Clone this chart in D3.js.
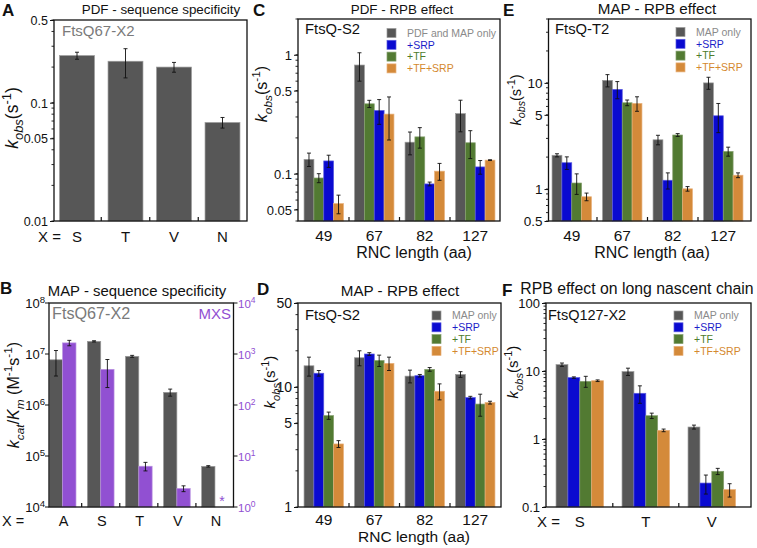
<!DOCTYPE html>
<html><head><meta charset="utf-8">
<script src="https://cdn.jsdelivr.net/npm/d3@7"></script>
<style>body{margin:0;background:#fff} text{font-family:"Liberation Sans",Arial,sans-serif}</style>
</head><body><svg id="c" width="757" height="548"></svg>
<script>
// ---------------- data ----------------
const seqCatsA = ["S","T","V","N"];
const pdfSeqVals = [0.25,0.224,0.2,0.068];
const pdfSeqErr  = [0.017,0.062,0.019,0.007];

const seqCatsB = ["A","S","T","V","N"];
const mapKcatKm    = [7.7e6,1.77e7,9.0e6,1.77e6,6.27e4];
const mapKcatKmErr = [4e6,5e5,4e5,2.8e5,2e3];
const mxsVals = [1650,500,6.3,2.3,null];
const mxsErr  = [200,280,1.2,0.3,null];

const rncLengths = ["49","67","82","127"];
const seqCatsF = ["S","T","V"];
const seriesKeys = ["base","srp","tf","tfsrp"];

// C: PDF - RPB effect (FtsQ-S2)
const pdfBase = [0.132,0.82,0.184,0.32],  pdfBaseErr = [0.017,0.22,0.04,0.095];
const pdfSrp  = [0.128,0.34,0.082,0.114], pdfSrpErr  = [0.015,0.08,0.003,0.015];
const pdfTf   = [0.092,0.387,0.204,0.182],pdfTfErr   = [0.008,0.027,0.04,0.048];
const pdfTfSrp= [0.056,0.317,0.105,0.13], pdfTfSrpErr= [0.01,0.125,0.017,0.001];
// D: MAP - RPB effect (FtsQ-S2)
const mapS2Base = [15.0,17.5,12.3,12.7], mapS2BaseErr = [2.7,2.5,1.5,0.7];
const mapS2Srp  = [13.0,18.8,12.4,8.15], mapS2SrpErr  = [0.7,0.5,0.3,0.2];
const mapS2Tf   = [5.77,16.6,14.0,7.2],  mapS2TfErr   = [0.4,1.8,0.5,1.5];
const mapS2TfSrp= [3.35,15.7,9.2,7.4],   mapS2TfSrpErr= [0.22,2.0,1.4,0.2];
// E: MAP - RPB effect (FtsQ-T2)
const mapT2Base = [2.08,10.57,2.91,10.0], mapT2BaseErr = [0.07,1.4,0.3,1.3];
const mapT2Srp  = [1.77,8.69,1.21,4.9],   mapT2SrpErr  = [0.24,1.6,0.21,1.5];
const mapT2Tf   = [1.14,6.5,3.23,2.26],   mapT2TfErr   = [0.25,0.4,0.1,0.22];
const mapT2TfSrp= [0.846,6.4,1.005,1.35], mapT2TfSrpErr= [0.07,1.0,0.05,0.07];
// F: long nascent chain (FtsQ127-X2)
const longBase = [12.4,9.8,1.5],    longBaseErr = [0.7,1.2,0.1];
const longSrp  = [8.0,4.7,0.225],   longSrpErr  = [0.2,1.35,0.07];
const longTf   = [7.05,2.2,0.335],  longTfErr   = [1.3,0.2,0.035];
const longTfSrp= [7.2,1.34,0.18],   longTfSrpErr= [0.2,0.06,0.04];

const ticksA = [0.01,0.05,0.1,0.5];
const ticksC = [0.05,0.1,0.5,1];
const ticksD = [1,5,10,50];
const ticksE = [0.5,1,5,10];
const ticksF = [0.1,1,10,100];
const ticksBLeft = [4,5,6,7,8];
const ticksBRight = [0,1,2,3,4];

const legendC = ["PDF and MAP only","+SRP","+TF","+TF+SRP"];
const legendMAP = ["MAP only","+SRP","+TF","+TF+SRP"];

// ---------------- styles ----------------
const COL = {base:"#575757", srp:"#0a0ad0", tf:"#527a32", tfsrp:"#d48a3a", mxs:"#9150d2"};
const STROKE = {base:"#9a9a9a", srp:"#5a5ae0", tf:"#86a070", tfsrp:"#e8b07a", mxs:"#b890e0"};
const TXT = {base:"#8a8a8a", srp:"#1c1cc8", tf:"#4e7c2c", tfsrp:"#d4882e"};

const svg = d3.select("#c");

function rich(g, x, y, parts, size) {
  const t = g.append("text").attr("x",x).attr("y",y).attr("font-size",size);
  let shift = 0;
  parts.forEach(p => {
    const s = t.append("tspan").text(p.t);
    const target = p.sub ? size*0.3 : p.sup ? -size*0.42 : 0;
    if (target - shift !== 0) s.attr("dy", target - shift);
    shift = target;
    if (p.sub || p.sup) s.attr("font-size", size*0.74);
    if (p.it) s.attr("font-style","italic");
  });
  return t;
}
const kobs = [{t:"k",it:1},{t:"obs",it:1,sub:1},{t:"(s"},{t:"-1",sup:1},{t:")"}];

function minorTicks(dom) {
  const out = [];
  const lo = Math.floor(Math.log10(dom[0])), hi = Math.ceil(Math.log10(dom[1]));
  for (let e = lo; e <= hi; e++) for (let m = 1; m <= 9; m++) {
    const v = m * Math.pow(10, e);
    if (v >= dom[0]*0.999 && v <= dom[1]*1.001) out.push(v);
  }
  return out;
}

function panel(o) {
  const g = svg.append("g");
  const y = d3.scaleLog().domain(o.yDomain).range([o.y1, o.y0]);
  const x = d3.scaleBand().domain(o.cats).range(o.band).paddingInner(0).paddingOuter(0);
  const inner = d3.scaleBand().domain(d3.range(o.series.length))
      .range([0, x.bandwidth()*o.groupFrac]);
  const off = x.bandwidth()*(1-o.groupFrac)/2;
  o.series.forEach((s, si) => {
    const sy = s.scale || y;
    const lo = sy.domain()[0];
    const data = o.cats.map((c,i) => ({c, v:s.vals[i], e:s.errs[i]})).filter(d => d.v != null);
    g.selectAll(null).data(data).join("rect")
      .attr("x", d => x(d.c) + off + inner(si))
      .attr("width", inner.bandwidth())
      .attr("y", d => sy(d.v))
      .attr("height", d => o.y1 - sy(d.v))
      .attr("fill", s.color).attr("stroke", s.stroke).attr("stroke-width", 0.7);
    const eb = g.selectAll(null).data(data.filter(d => d.e)).join("g")
      .attr("transform", d => `translate(${x(d.c) + off + inner(si) + inner.bandwidth()/2},0)`);
    const top = d => sy(d.v + d.e), bot = d => sy(Math.max(d.v - d.e, lo*1.01));
    eb.append("line").attr("y1", top).attr("y2", bot).attr("stroke","#111").attr("stroke-width",0.9);
    eb.append("line").attr("x1",-2).attr("x2",2).attr("y1", top).attr("y2", top)
      .attr("stroke","#111").attr("stroke-width",0.9);
    eb.append("line").attr("x1",-2).attr("x2",2).attr("y1", bot).attr("y2", bot)
      .attr("stroke","#111").attr("stroke-width",0.9);
  });
  g.append("rect").attr("x",o.x0).attr("y",o.y0).attr("width",o.x1-o.x0).attr("height",o.y1-o.y0)
    .attr("fill","none").attr("stroke","#111").attr("stroke-width",1.3);
  g.selectAll(null).data(o.cats.slice(1)).join("line")
    .attr("x1", d => x(d)).attr("x2", d => x(d)).attr("y1", o.y1).attr("y2", o.y1-4)
    .attr("stroke","#111").attr("stroke-width",1.2);
  if (o.minor !== false) {
    g.selectAll(null).data(minorTicks(o.yDomain)).join("line")
      .attr("x1", o.x0-2.5).attr("x2", o.x0).attr("y1", d => y(d)).attr("y2", d => y(d))
      .attr("stroke","#111").attr("stroke-width",0.9);
  }
  if (o.yTickFmt) {
    const ax = d3.axisLeft(y).tickValues(o.yTicks).tickSize(4).tickFormat(o.yTickFmt);
    const ag = g.append("g").attr("transform",`translate(${o.x0},0)`).call(ax);
    ag.select(".domain").remove();
    ag.selectAll("line").attr("stroke","#111").attr("stroke-width",1);
    ag.selectAll("text").attr("font-size",o.tickSize).attr("fill","#111")
      .attr("font-family","Liberation Sans, Arial, sans-serif").attr("dy","0.35em").attr("x",-6);
  }
  g.selectAll(null).data(o.cats).join("text")
    .attr("x", d => x(d) + x.bandwidth()/2 + (o.catDx||0)).attr("y", o.y1 + (o.catDy||20))
    .attr("text-anchor","middle").attr("font-size", o.catSize).attr("fill","#111").text(d => d);
  return {g, x, y};
}

function legend(x, y, labels, size) {
  const g = svg.append("g");
  seriesKeys.forEach((k,i) => {
    g.append("rect").attr("x",x).attr("y",y + i*11.8 - 4.5).attr("width",9).attr("height",9)
      .attr("fill",COL[k]).attr("stroke",STROKE[k]).attr("stroke-width",0.7);
    g.append("text").attr("x",x+20).attr("y",y + i*11.8 + 3.8).attr("font-size",size)
      .attr("fill",TXT[k]).text(labels[i]);
  });
}

function ser(vals, errs, key) { return {vals, errs, color:COL[key], stroke:STROKE[key]}; }
const fmtNum = d => String(d);
function ylab(x, y, size, parts) {
  rich(svg, x, y, parts || kobs, size).attr("transform",`rotate(-90,${x},${y})`)
    .attr("text-anchor","middle").attr("fill","#111");
}
function txt(x, y, s, size, color, anchor, weight) {
  const t = svg.append("text").attr("x",x).attr("y",y).attr("font-size",size).attr("fill",color||"#111").text(s);
  if (anchor) t.attr("text-anchor",anchor);
  if (weight) t.attr("font-weight",weight);
  return t;
}

// ---------------- Panel A ----------------
panel({x0:54,x1:247,y0:20,y1:221,yDomain:[0.01,0.5],yTicks:ticksA,yTickFmt:fmtNum,tickSize:12.5,
  cats:seqCatsA,band:[52.75,246.75],groupFrac:0.72,catSize:15,catDy:21,
  series:[ser(pdfSeqVals,pdfSeqErr,"base")]});
txt(38,242,"X =",15);
txt(62,36,"FtsQ67-X2",15,"#7a7a7a");
txt(161,14,"PDF - sequence specificity",13.4,null,"middle");
txt(2,16,"A",17,null,null,"bold");
ylab(18,118,17.5);

// ---------------- Panel C ----------------
panel({x0:298,x1:500,y0:19,y1:221,yDomain:[0.04,2],yTicks:ticksC,yTickFmt:fmtNum,tickSize:13,
  cats:rncLengths,band:[298.5,500.5],groupFrac:0.78,catSize:15.5,
  series:[ser(pdfBase,pdfBaseErr,"base"),ser(pdfTf,pdfTfErr,"tf"),ser(pdfSrp,pdfSrpErr,"srp"),ser(pdfTfSrp,pdfTfSrpErr,"tfsrp")]});
legend(387,33,legendC,10.5);
txt(305,34,"FtsQ-S2",14.8);
txt(402,14,"PDF - RPB effect",13.4,null,"middle");
txt(253,16,"C",17,null,null,"bold");
txt(414,258,"RNC length (aa)",16,null,"middle");
ylab(267,94,16);

// ---------------- Panel E ----------------
panel({x0:548.5,x1:751,y0:19,y1:221,yDomain:[0.5,40],yTicks:ticksE,yTickFmt:fmtNum,tickSize:13.5,
  cats:rncLengths,band:[546.5,748.5],groupFrac:0.78,catSize:15.5,
  series:[ser(mapT2Base,mapT2BaseErr,"base"),ser(mapT2Srp,mapT2SrpErr,"srp"),ser(mapT2Tf,mapT2TfErr,"tf"),ser(mapT2TfSrp,mapT2TfSrpErr,"tfsrp")]});
legend(676,32,legendMAP,10.5);
txt(555,34,"FtsQ-T2",14.8);
txt(657,14,"MAP - RPB effect",15.2,null,"middle");
txt(503,16,"E",17,null,null,"bold");
txt(652,258,"RNC length (aa)",16,null,"middle");
ylab(521,100,14.5);

// ---------------- Panel B ----------------
{
  const yR = d3.scaleLog().domain([1,1e4]).range([507,303]);
  const p = panel({x0:49,x1:233.5,y0:303,y1:507,yDomain:[1e4,1e8],minor:false,catSize:14.5,catDy:19,
    cats:seqCatsB,band:[43.6,234],groupFrac:0.7,catDx:1,
    series:[ser(mapKcatKm,mapKcatKmErr,"base"),Object.assign(ser(mxsVals,mxsErr,"mxs"),{scale:yR})]});
  ticksBLeft.forEach(e => {
    const yy = p.y(Math.pow(10,e));
    p.g.append("line").attr("x1",45).attr("x2",49).attr("y1",yy).attr("y2",yy).attr("stroke","#111");
    rich(p.g,45,yy+5,[{t:"10"},{t:String(e),sup:1}],13).attr("text-anchor","end").attr("fill","#111");
  });
  ticksBRight.forEach(e => {
    const yy = yR(Math.pow(10,e));
    p.g.append("line").attr("x1",233.5).attr("x2",237.5).attr("y1",yy).attr("y2",yy).attr("stroke","#111");
    rich(p.g,238,yy+5,[{t:"10"},{t:String(e),sup:1}],11.5).attr("fill","#9150d2");
  });
  txt(222,506,"*",14,"#9150d2","middle");
}
txt(2,526,"X =",14.5);
txt(52,319,"FtsQ67-X2",16.2,"#7a7a7a");
txt(231,319,"MXS",15,"#9150d2","end");
txt(137,296,"MAP - sequence specificity",14.9,null,"middle");
txt(0,294,"B",17,null,null,"bold");
ylab(19,395,16,[{t:"k",it:1},{t:"cat",it:1,sub:1},{t:"/"},{t:"K",it:1},{t:"m",it:1,sub:1},{t:" (M"},{t:"-1",sup:1},{t:"s"},{t:"-1",sup:1},{t:")"}]);

// ---------------- Panel D ----------------
panel({x0:298,x1:501,y0:303,y1:507,yDomain:[1,50],yTicks:ticksD,yTickFmt:fmtNum,tickSize:14,
  cats:rncLengths,band:[298.5,500.5],groupFrac:0.78,catSize:15.5,catDy:17.5,
  series:[ser(mapS2Base,mapS2BaseErr,"base"),ser(mapS2Srp,mapS2SrpErr,"srp"),ser(mapS2Tf,mapS2TfErr,"tf"),ser(mapS2TfSrp,mapS2TfSrpErr,"tfsrp")]});
legend(432,315.5,legendMAP,10.5);
txt(305,320,"FtsQ-S2",14.8);
txt(400,296,"MAP - RPB effect",15.2,null,"middle");
txt(257,295,"D",17,null,null,"bold");
txt(414,542,"RNC length (aa)",15.5,null,"middle");
ylab(275,382,15);

// ---------------- Panel F ----------------
panel({x0:546,x1:751,y0:303,y1:507,yDomain:[0.1,100],yTicks:ticksF,yTickFmt:fmtNum,tickSize:13,
  cats:seqCatsF,band:[546.8,744.8],groupFrac:0.72,catSize:15,catDy:20,
  series:[ser(longBase,longBaseErr,"base"),ser(longSrp,longSrpErr,"srp"),ser(longTf,longTfErr,"tf"),ser(longTfSrp,longTfSrpErr,"tfsrp")]});
legend(674,315.5,legendMAP,10.5);
txt(537,527,"X =",15);
txt(548,320,"FtsQ127-X2",14.5);
txt(637,294,"RPB effect on long nascent chain",15.8,null,"middle");
txt(502,296,"F",17,null,null,"bold");
ylab(518,372,15);
</script></body></html>
